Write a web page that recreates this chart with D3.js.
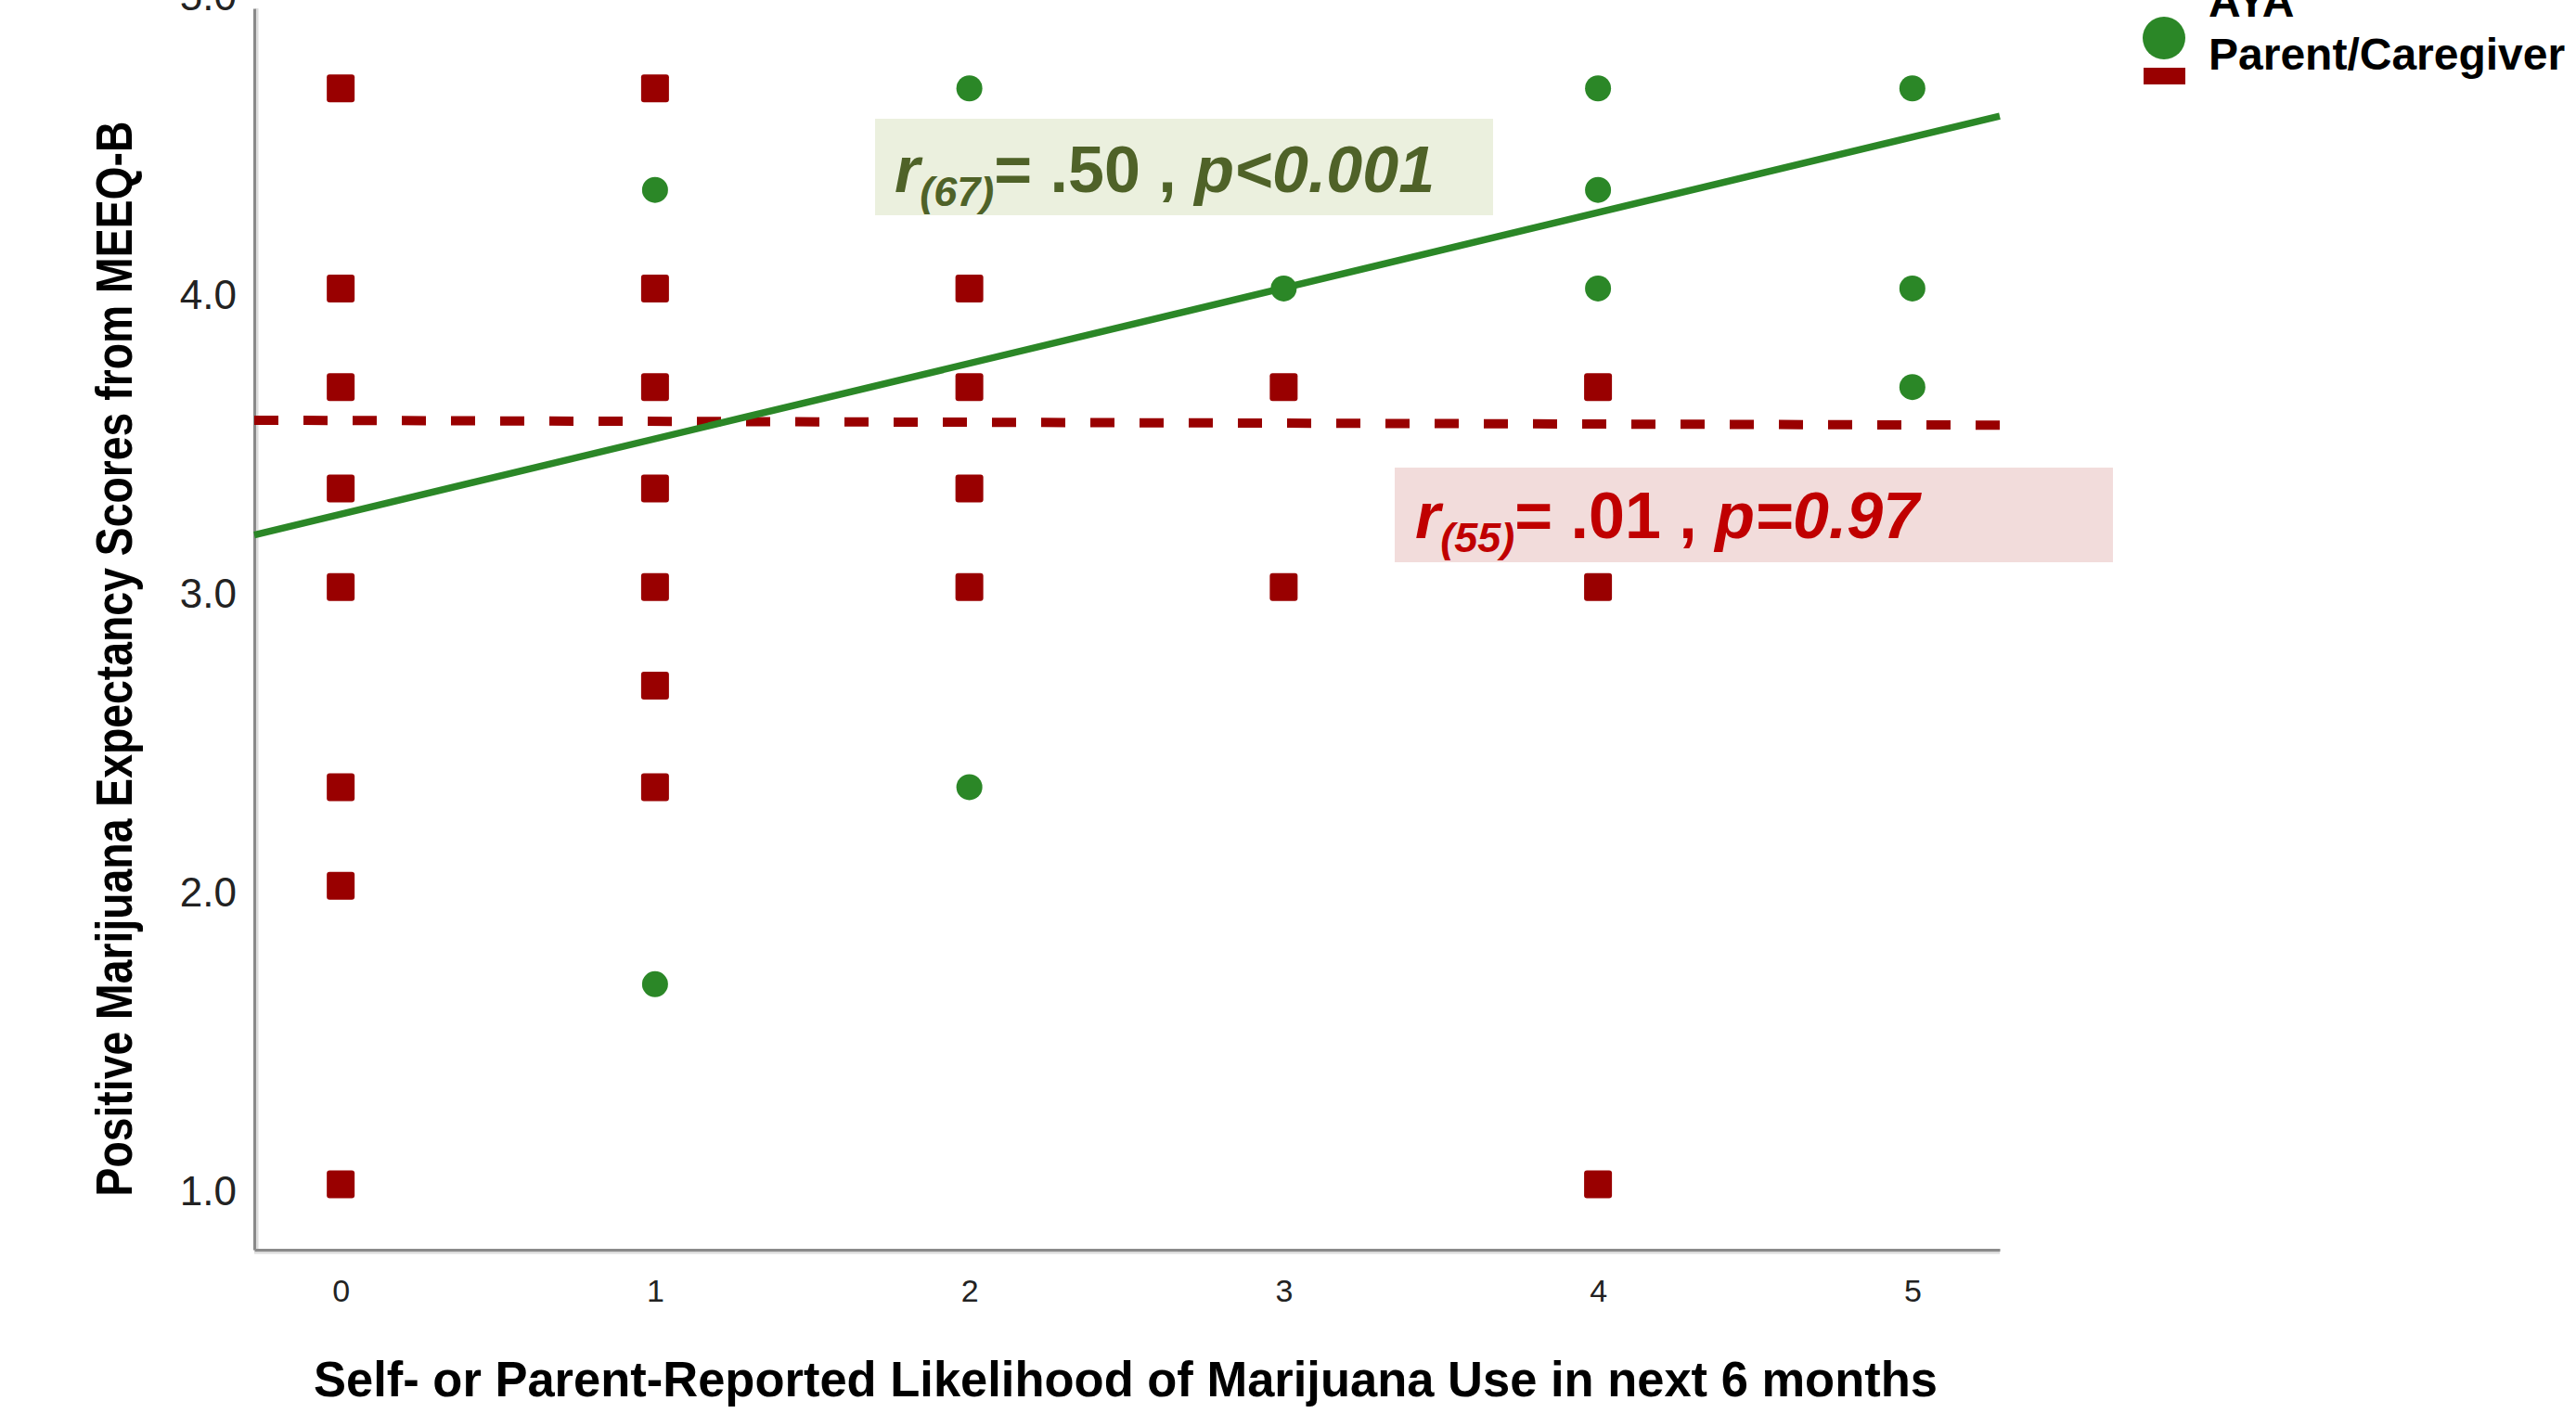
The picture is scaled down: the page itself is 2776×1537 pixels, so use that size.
<!DOCTYPE html>
<html>
<head>
<meta charset="utf-8">
<script src="https://cdn.jsdelivr.net/npm/d3@7"></script>
<style>
  body { margin: 0; background: #fff; }
  svg { display: block; font-family: "Liberation Sans", Arial, sans-serif; }
  .stat { white-space: pre; font-weight: bold; }
</style>
</head>
<body>
<div id="chart"></div>
<script>
const WIDTH = 2776, HEIGHT = 1537;

const xTicks = [0, 1, 2, 3, 4, 5];
const yTicks = [1.0, 2.0, 3.0, 4.0, 5.0];

// AYA - green circles
const ayaX = [1, 1, 2, 2, 3, 4, 4, 4, 5, 5, 5];
const ayaY = [4.33, 1.67, 4.67, 2.33, 4.0, 4.67, 4.33, 4.0, 4.67, 4.0, 3.67];

// Parent/Caregiver - red squares
const parentX = [0, 0, 0, 0, 0, 0, 0, 0, 1, 1, 1, 1, 1, 1, 1, 2, 2, 2, 2, 3, 3, 4, 4, 4];
const parentY = [4.67, 4.0, 3.67, 3.33, 3.0, 2.33, 2.0, 1.0,
                 4.67, 4.0, 3.67, 3.33, 3.0, 2.67, 2.33,
                 4.0, 3.67, 3.33, 3.0,
                 3.67, 3.0,
                 3.67, 3.0, 1.0];

// fit lines [intercept, slope]
const ayaFit = [3.244, 0.2526];
const parentFit = [3.558, -0.003];

const seriesNames = ["AYA", "Parent/Caregiver"];
const ayaStat = ["r", "(67)", "= .50 , ", "p<0.001"];
const parentStat = ["r", "(55)", "= .01 , ", "p=0.97"];

const xTitle = "Self- or Parent-Reported Likelihood of Marijuana Use in next 6 months";
const yTitle = "Positive Marijuana Expectancy Scores from MEEQ-B";

const GREEN = "#2b8727", RED = "#990000";

const svg = d3.select("#chart").append("svg")
  .attr("width", WIDTH).attr("height", HEIGHT);

const x = d3.scaleLinear().domain([-0.275, 5.278]).range([274, 2155]);
const y = d3.scaleLinear().domain([0.781, 4.938]).range([1347, 9]);

// axis shadows (light line next to the dark frame)
svg.append("line")
  .attr("x1", x.range()[0] + 3).attr("x2", x.range()[0] + 3)
  .attr("y1", y.range()[1]).attr("y2", y.range()[0])
  .attr("stroke", "#dcdcdc").attr("stroke-width", 3);
svg.append("line")
  .attr("x1", x.range()[0]).attr("x2", x.range()[1])
  .attr("y1", y.range()[0] + 3).attr("y2", y.range()[0] + 3)
  .attr("stroke", "#dcdcdc").attr("stroke-width", 3);

// Y axis
const yAxis = svg.append("g")
  .attr("transform", `translate(${x.range()[0]},0)`)
  .call(d3.axisLeft(y).tickValues(yTicks).tickFormat(d3.format(".1f"))
    .tickSize(0).tickSizeOuter(0).tickPadding(19));
yAxis.selectAll(".tick text")
  .attr("dy", "0.49em")
  .attr("font-size", 44)
  .attr("font-family", "Liberation Sans, Arial, sans-serif")
  .attr("fill", "#222");

// X axis
const xAxis = svg.append("g")
  .attr("transform", `translate(0,${y.range()[0]})`)
  .call(d3.axisBottom(x).tickValues(xTicks).tickFormat(d3.format("d"))
    .tickSize(0).tickSizeOuter(0).tickPadding(32));
xAxis.selectAll(".tick text")
  .attr("font-size", 34)
  .attr("font-family", "Liberation Sans, Arial, sans-serif")
  .attr("fill", "#222");

svg.selectAll(".domain").attr("stroke", "#8a8a8a").attr("stroke-width", 3);

// axis titles
svg.append("text")
  .attr("x", 1213).attr("y", 1505)
  .attr("text-anchor", "middle")
  .attr("font-size", 53).attr("font-weight", "bold")
  .attr("textLength", 1750).attr("lengthAdjust", "spacingAndGlyphs")
  .text(xTitle);

svg.append("text")
  .attr("transform", "translate(142,710) rotate(-90)")
  .attr("text-anchor", "middle")
  .attr("font-size", 55).attr("font-weight", "bold")
  .attr("textLength", 1159).attr("lengthAdjust", "spacingAndGlyphs")
  .text(yTitle);

// fit lines
const fitLine = fit => d3.line()
  .x(d => x(d))
  .y(d => y(fit[0] + fit[1] * d))(x.domain());

svg.append("path")
  .attr("d", fitLine(parentFit))
  .attr("fill", "none")
  .attr("stroke", RED)
  .attr("stroke-width", 10)
  .attr("stroke-dasharray", "26,27");

svg.append("path")
  .attr("d", fitLine(ayaFit))
  .attr("fill", "none")
  .attr("stroke", GREEN)
  .attr("stroke-width", 7.5);

// points: AYA behind, parents on top
svg.append("g").selectAll("circle")
  .data(d3.zip(ayaX, ayaY))
  .join("circle")
  .attr("cx", d => x(d[0]))
  .attr("cy", d => y(d[1]))
  .attr("r", 14)
  .attr("fill", GREEN);

const SQ = 30;
svg.append("g").selectAll("rect")
  .data(d3.zip(parentX, parentY))
  .join("rect")
  .attr("x", d => x(d[0]) - SQ / 2)
  .attr("y", d => y(d[1]) - SQ / 2)
  .attr("width", SQ).attr("height", SQ)
  .attr("rx", 3)
  .attr("fill", RED);

// stat annotation boxes
function addStat(parts, box, textX, baseY, fill, color) {
  svg.append("rect")
    .attr("x", box[0]).attr("y", box[1])
    .attr("width", box[2]).attr("height", box[3])
    .attr("fill", fill);
  const t = svg.append("text")
    .attr("class", "stat")
    .attr("x", textX).attr("y", baseY)
    .attr("font-size", 70)
    .attr("fill", color);
  t.append("tspan").attr("font-style", "italic").text(parts[0]);
  t.append("tspan").attr("font-style", "italic").attr("font-size", 45).attr("dy", 15).text(parts[1]);
  t.append("tspan").attr("dy", -15).text(parts[2]);
  t.append("tspan").attr("font-style", "italic").text(parts[3]);
}

addStat(ayaStat, [943, 128, 666, 104], 964, 207, "#ebf0de", "#4f6228");
addStat(parentStat, [1503, 504, 774, 102], 1525, 580, "#f2dcdb", "#c00000");

// legend
const legend = svg.append("g");
legend.append("circle").attr("cx", 2332).attr("cy", 41).attr("r", 23).attr("fill", GREEN);
legend.append("rect").attr("x", 2310).attr("y", 73).attr("width", 45).attr("height", 18).attr("fill", RED);
legend.selectAll("text")
  .data(seriesNames)
  .join("text")
  .attr("x", 2380)
  .attr("y", (d, i) => 18 + i * 57)
  .attr("font-size", 48)
  .attr("font-weight", "bold")
  .text(d => d);
</script>
</body>
</html>
